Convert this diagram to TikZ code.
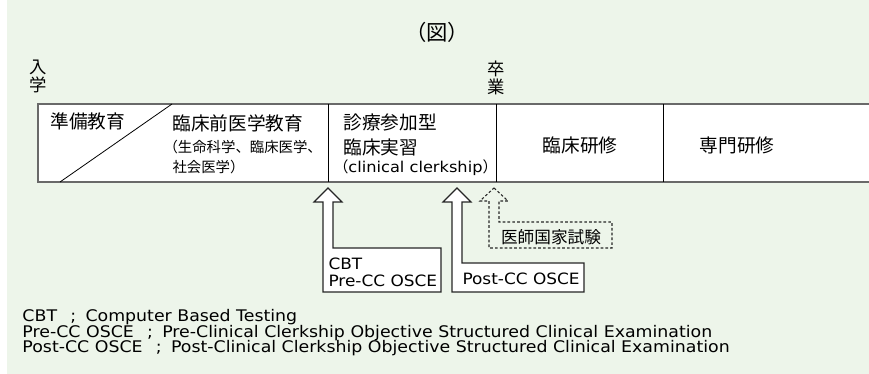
\documentclass[tikz,border=0pt]{standalone}
\usepackage{fontspec}
\setmainfont{DejaVu Sans}[FakeStretch=1.085]
\newfontfamily\jp{Noto Sans CJK JP}
\definecolor{panelgreen}{RGB}{237,245,234}
\definecolor{framegray}{RGB}{105,105,105}
\newcommand{\jsemi}{\hspace{0.83em};\hspace{0.58em}}
\tikzset{every picture/.style={line width=0.75pt}}
\tikzset{
  bigjp/.style={inner sep=0pt, font=\jp\fontsize{14}{18}\selectfont},
  smalljp/.style={inner sep=0pt, font=\jp\fontsize{10.8}{13}\selectfont},
  lbl/.style={inner sep=0pt, font=\fontsize{11.7}{12.75}\selectfont, align=left},
  note/.style={inner sep=0pt, font=\fontsize{12}{13}\selectfont, anchor=west},
  blockarrow/.style={draw=black!85, fill=white, line width=0.8pt},
  dasharrow/.style={draw=black!85, line width=0.8pt, dash pattern=on 2pt off 1.6pt},
}

\begin{document}
\begin{tikzpicture}[x=0.75pt, y=0.75pt, yscale=-1,xscale=1]
    \useasboundingbox (0,0) rectangle (869,374);
    \fill [panelgreen] (7,0) rectangle (869,374);

    % Title
    \node [inner sep=0pt, font=\jp\fontsize{16}{18}\selectfont] (title) at (437,32) {（図）};

    % Labels: entry / graduation
    \node [bigjp, align=center, font=\jp\fontsize{13}{13.5}\selectfont] (entry) at (38,76) {入\\学};
    \node [bigjp, align=center, font=\jp\fontsize{13}{13.5}\selectfont] (grad)  at (496,78) {卒\\業};

    % Timeline frame
    \draw [framegray, line width=1.1pt, fill=white] (869,104) -- (38,104) -- (38,182) -- (869,182);
    \coordinate (diagA) at (60,182);
    \coordinate (diagB) at (172,104);
    \draw [line width=0.6pt] (diagA) -- (diagB);
    \draw [line width=0.75pt] (328,104) -- (328,182);
    \draw [line width=0.75pt] (496,104) -- (496,182);
    \draw [line width=0.75pt] (663,104) -- (663,182);

    % Labels: phases
    \node [bigjp, anchor=west] (prep)     at (50,121)  {準備教育};
    \node [bigjp, anchor=west] (preclin)  at (172,123) {臨床前医学教育};
    \node [smalljp, anchor=west] (preclinB) at (163,147) {（生命科学、臨床医学、};
    \node [smalljp, anchor=west] (preclinC) at (172,167) {社会医学）};
    \node [bigjp, anchor=west] (clerk)    at (343,122) {診療参加型};
    \node [bigjp, anchor=west] (clerkB)   at (343,147) {臨床実習};
    \node [inner sep=0pt, anchor=west, font=\fontsize{11.2}{13}\selectfont] (clerkC) at (333,168)
          {{\jp （}clinical clerkship{\jp ）}};
    \node [bigjp] (resid) at (580,145) {臨床研修};
    \node [bigjp] (spec)  at (737,145) {専門研修};

    % Arrow: CBT / Pre-CC OSCE
    \draw [blockarrow] (328,188) -- (342,202) -- (333,202) -- (333,248) -- (441,248)
          -- (441,292) -- (323,292) -- (323,202) -- (314,202) -- cycle;
    \node [lbl, anchor=west] (precc) at (328,272) {CBT\\Pre-CC OSCE};

    % Arrow: Post-CC OSCE
    \draw [blockarrow] (457,188) -- (471,202) -- (462,202) -- (462,263) -- (584,263)
          -- (584,292) -- (452,292) -- (452,202) -- (443,202) -- cycle;
    \node [lbl, anchor=west] (postcc) at (462,279) {Post-CC OSCE};

    % Arrow: national exam (dashed)
    \draw [dasharrow] (494,188) -- (508,201) -- (499,201) -- (499,222) -- (612,222)
          -- (612,248) -- (489,248) -- (489,201) -- (480,201) -- cycle;
    \node [inner sep=0pt, font=\jp\fontsize{12.5}{14}\selectfont] (exam) at (551,237) {医師国家試験};

    % Notes
    \node [note] (noteA) at (22,317) {CBT\jsemi Computer Based Testing};
    \node [note] (noteB) at (22,333) {Pre-CC OSCE\jsemi Pre-Clinical Clerkship Objective Structured Clinical Examination};
    \node [note] (noteC) at (22,348) {Post-CC OSCE\jsemi Post-Clinical Clerkship Objective Structured Clinical Examination};

\end{tikzpicture}
\end{document}
